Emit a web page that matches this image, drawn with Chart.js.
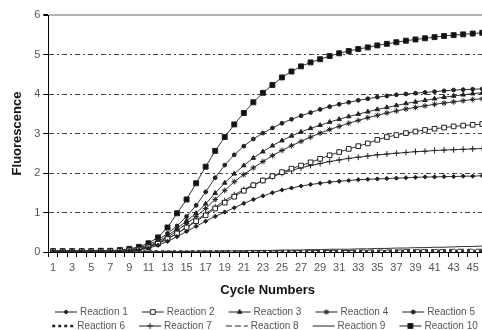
<!DOCTYPE html>
<html><head><meta charset="utf-8">
<script src="https://cdn.jsdelivr.net/npm/chart.js@4/dist/chart.umd.min.js"></script>
<style>
html,body{margin:0;padding:0;overflow:hidden;background:#fff;width:482px;height:330px}
#wrap{position:relative;width:520px;height:341px}
</style>
</head><body><div id="wrap"><canvas id="c" width="520" height="341"></canvas></div>
<script>
const cycles = ["1","2","3","4","5","6","7","8","9","10","11","12","13","14","15","16","17","18","19","20","21","22","23","24","25","26","27","28","29","30","31","32","33","34","35","36","37","38","39","40","41","42","43","44","45","46"];
const yTicks = [0,1,2,3,4,5,6];
const seriesNames = ["Reaction 1","Reaction 2","Reaction 3","Reaction 4","Reaction 5","Reaction 6","Reaction 7","Reaction 8","Reaction 9","Reaction 10"];

const reaction1 = [0.02,0.02,0.02,0.02,0.02,0.02,0.02,0.02,0.03,0.05, 0.10,0.17,0.27,0.39,0.52,0.65,0.78,0.90,1.01,1.12, 1.23,1.33,1.42,1.50,1.57,1.62,1.67,1.71,1.74,1.77, 1.79,1.81,1.83,1.84,1.85,1.86,1.87,1.88,1.89,1.90, 1.90,1.91,1.91,1.92,1.92,1.93];
const reaction2 = [0.02,0.02,0.02,0.02,0.02,0.02,0.02,0.03,0.04,0.06, 0.12,0.21,0.33,0.47,0.62,0.78,0.93,1.10,1.25,1.40, 1.55,1.69,1.81,1.92,2.02,2.11,2.19,2.27,2.36,2.45, 2.53,2.61,2.68,2.75,2.84,2.91,2.96,3.01,3.05,3.09, 3.12,3.15,3.18,3.20,3.22,3.24];
const reaction3 = [0.02,0.02,0.02,0.02,0.02,0.02,0.03,0.03,0.05,0.08, 0.15,0.26,0.41,0.59,0.79,0.98,1.22,1.49,1.75,1.98, 2.19,2.38,2.54,2.69,2.82,2.94,3.04,3.13,3.21,3.29, 3.36,3.43,3.49,3.55,3.61,3.66,3.71,3.76,3.80,3.84, 3.88,3.92,3.95,3.98,4.01,4.03];
const reaction4 = [0.02,0.02,0.02,0.02,0.02,0.02,0.02,0.03,0.04,0.07, 0.13,0.23,0.37,0.54,0.72,0.90,1.10,1.33,1.56,1.78, 1.96,2.13,2.29,2.44,2.57,2.69,2.80,2.91,3.01,3.10, 3.18,3.26,3.33,3.40,3.46,3.52,3.57,3.62,3.66,3.70, 3.74,3.77,3.80,3.83,3.86,3.88];
const reaction5 = [0.02,0.02,0.02,0.02,0.02,0.02,0.03,0.04,0.06,0.10, 0.18,0.30,0.47,0.66,0.90,1.18,1.52,1.88,2.20,2.46, 2.68,2.86,3.01,3.14,3.26,3.36,3.45,3.53,3.61,3.68, 3.74,3.79,3.84,3.88,3.92,3.95,3.98,4.00,4.02,4.04, 4.06,4.08,4.10,4.11,4.12,4.13];
const reaction6 = [0.01,0.01,0.01,0.01,0.01,0.01,0.01,0.01,0.01,0.01, 0.01,0.01,0.01,0.01,0.01,0.01,0.01,0.01,0.01,0.01, 0.01,0.01,0.01,0.02,0.02,0.02,0.02,0.02,0.02,0.02, 0.02,0.02,0.02,0.02,0.02,0.02,0.03,0.03,0.03,0.03, 0.03,0.03,0.03,0.03,0.03,0.03];
const reaction7 = [0.02,0.02,0.02,0.02,0.02,0.02,0.02,0.03,0.04,0.06, 0.12,0.21,0.33,0.47,0.63,0.80,0.97,1.14,1.30,1.45, 1.58,1.70,1.81,1.91,1.99,2.07,2.13,2.19,2.24,2.29, 2.33,2.37,2.40,2.43,2.46,2.48,2.50,2.52,2.54,2.55, 2.57,2.58,2.59,2.60,2.61,2.62];
const reaction8 = [0.02,0.02,0.02,0.02,0.02,0.02,0.02,0.02,0.02,0.02, 0.02,0.02,0.02,0.02,0.02,0.02,0.02,0.02,0.02,0.02, 0.02,0.03,0.03,0.03,0.03,0.03,0.04,0.04,0.04,0.04, 0.04,0.04,0.05,0.05,0.05,0.05,0.05,0.06,0.06,0.06, 0.06,0.06,0.07,0.07,0.07,0.07];
const reaction9 = [0.01,0.01,0.01,0.01,0.01,0.01,0.01,0.01,0.01,0.01, 0.01,0.01,0.01,0.01,0.01,0.02,0.02,0.02,0.03,0.03, 0.03,0.04,0.04,0.04,0.05,0.05,0.05,0.06,0.06,0.07, 0.07,0.07,0.08,0.08,0.09,0.09,0.10,0.10,0.11,0.11, 0.12,0.12,0.13,0.14,0.14,0.15];
const reaction10 = [0.02,0.02,0.02,0.02,0.02,0.03,0.03,0.05,0.08,0.13, 0.22,0.37,0.62,0.98,1.33,1.74,2.16,2.56,2.91,3.23, 3.52,3.79,4.03,4.23,4.42,4.57,4.70,4.80,4.88,4.96, 5.03,5.09,5.14,5.18,5.23,5.27,5.31,5.35,5.38,5.41, 5.44,5.47,5.49,5.51,5.53,5.55];

const seriesData = [reaction1,reaction2,reaction3,reaction4,reaction5,reaction6,reaction7,reaction8,reaction9,reaction10];

// visual styles per series (kept separate from data)
const styles = [
  {ps:'rectRot', r:2.1, fill:'#222', dash:[], w:1},
  {ps:'rect', r:3.3, fill:'#fff', dash:[], w:1},
  {ps:'triangle', r:2.6, fill:'#222', dash:[], w:1},
  {ps:'star', r:2.8, fill:'#222', dash:[], w:1},
  {ps:'circle', r:1.9, fill:'#222', dash:[], w:1},
  {ps:false, r:0, fill:'#222', dash:[3,3], w:2.5},
  {ps:'cross', r:3, fill:'#222', dash:[], w:1},
  {ps:false, r:0, fill:'#222', dash:[6,3], w:1},
  {ps:false, r:0, fill:'#222', dash:[], w:1},
  {ps:'rect', r:3.5, fill:'#111', dash:[], w:1}
];

Chart.defaults.font.family = "'Liberation Sans', Arial, sans-serif";

function makeSample(st){
  const cv = document.createElement('canvas');
  cv.width = 44; cv.height = 10;
  const g = cv.getContext('2d');
  g.strokeStyle = '#222';
  g.lineWidth = st.w;
  g.setLineDash(st.dash);
  g.beginPath(); g.moveTo(17,5); g.lineTo(39,5); g.stroke();
  g.setLineDash([]);
  if (st.ps) {
    g.fillStyle = st.fill; g.strokeStyle = '#222'; g.lineWidth = 1;
    Chart.helpers.drawPoint(g, {pointStyle: st.ps, radius: st.r, borderWidth: 1, rotation: 0}, 28, 5);
  }
  return cv;
}
const samples = styles.map(makeSample);

const datasets = seriesNames.map((name, i) => ({
  label: name,
  data: seriesData[i],
  borderColor: '#333',
  borderWidth: styles[i].w,
  borderDash: styles[i].dash,
  pointStyle: styles[i].ps || 'circle',
  pointRadius: styles[i].ps ? styles[i].r : 0,
  pointHoverRadius: styles[i].ps ? styles[i].r : 0,
  pointBackgroundColor: styles[i].fill,
  pointBorderColor: '#222',
  pointBorderWidth: 1,
  tension: 0,
  fill: false
}));

new Chart(document.getElementById('c'), {
  type: 'line',
  data: { labels: cycles, datasets: datasets },
  options: {
    responsive: false,
    animation: false,
    devicePixelRatio: 1,
    layout: { padding: { top: 15, left: 0, right: 0, bottom: 0 } },
    plugins: {
      tooltip: { enabled: false },
      legend: {
        position: 'bottom',
        labels: {
          usePointStyle: true,
          pointStyleWidth: 30,
          padding: 4,
          color: '#555',
          font: { size: 10 },
          generateLabels: (chart) => chart.data.datasets.map((ds, i) => ({
            text: ds.label, pointStyle: samples[i], hidden: false, datasetIndex: i,
            fontColor: '#555', lineWidth: 0, strokeStyle: 'rgba(0,0,0,0)', fillStyle: 'rgba(0,0,0,0)'
          }))
        }
      }
    },
    scales: {
      x: {
        type: 'category',
        offset: true,
        grid: { display: true, drawOnChartArea: false, drawTicks: true, tickLength: 5, tickColor: '#000', offset: true },
        border: { display: true, color: '#000', width: 1 },
        ticks: { autoSkip: false, maxRotation: 0, minRotation: 0, padding: 4, color: '#555', font: { size: 11 },
          callback: (v, i) => (i % 2 === 0 ? cycles[i] : '') },
        title: { display: true, text: 'Cycle Numbers', color: '#111', font: { size: 13, weight: 'bold' }, padding: { top: 0, bottom: 5 } },
        afterFit: (s) => { s.height = 51; }
      },
      y: {
        min: yTicks[0], max: yTicks[yTicks.length - 1],
        ticks: { stepSize: 1, color: '#555', font: { size: 11 }, padding: 3 },
        grid: {
          color: (c) => (c.tick && c.tick.value === 6) ? '#b4b4b4' : (c.tick && c.tick.value === 0) ? 'rgba(0,0,0,0)' : '#444',
          lineWidth: (c) => (c.tick && c.tick.value === 6) ? 2 : 1,
          tickColor: '#000', tickLength: 5, tickBorderDash: []
        },
        border: { display: true, color: '#000', width: 1,
          dash: (c) => (c.tick && c.tick.value === 6) ? [] : [5, 3, 2, 3] },
        title: { display: true, text: 'Fluorescence', color: '#111', font: { size: 13, weight: 'bold' }, padding: { top: 9.5, bottom: 0 } },
        afterFit: (s) => { s.width = 48.3; }
      },
      yR: {
        position: 'right', display: true,
        grid: { display: false, drawTicks: false },
        border: { display: false },
        ticks: { display: false },
        afterFit: (s) => { s.width = 33; }
      }
    }
  }
});
</script>
</body></html>
